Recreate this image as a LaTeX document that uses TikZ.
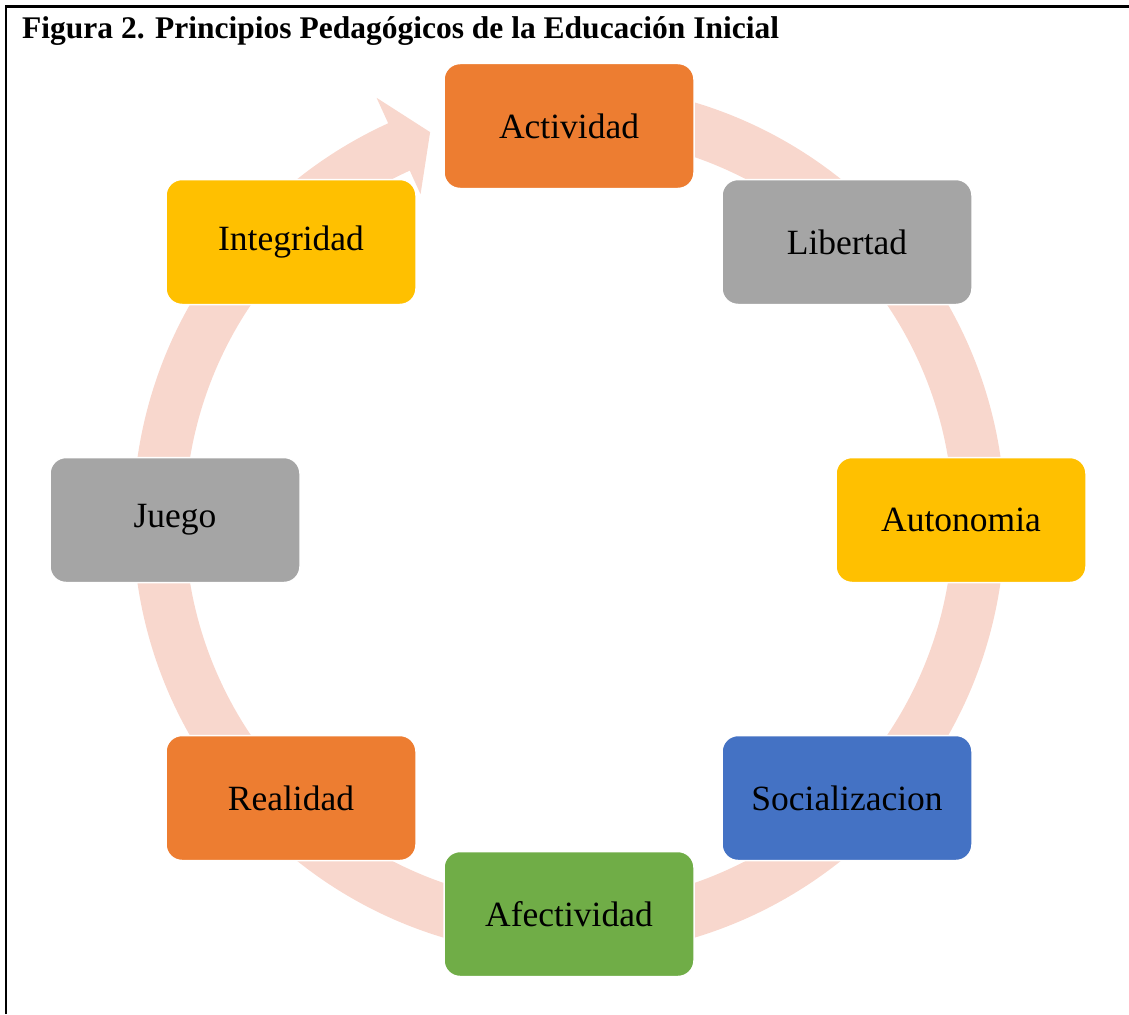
\documentclass[tikz,border=0pt]{standalone}
\usepackage{fontspec}
\setmainfont{Liberation Serif}
\usetikzlibrary{calc}
\definecolor{bandpink}{HTML}{F8D7CD}
\definecolor{boxorange}{HTML}{ED7D31}
\definecolor{boxgray}{HTML}{A5A5A5}
\definecolor{boxyellow}{HTML}{FFC000}
\definecolor{boxblue}{HTML}{4472C4}
\definecolor{boxgreen}{HTML}{70AD47}
\tikzset{
  pbox/.style={draw=white, line width=1.5pt, rounded corners=16pt,
    minimum width=250pt, minimum height=125pt, inner sep=0pt,
    font=\fontsize{35.5}{40}\selectfont, text=black},
  frameline/.style={line width=2.6pt, black}
}
\begin{document}
\begin{tikzpicture}[x=1pt,y=1pt]
\useasboundingbox (0,0) rectangle (1129,-1014);
% frame
\coordinate (fbl) at (6,-1014);
\coordinate (ftl) at (6,-6.5);
\coordinate (ftr) at (1129,-6.5);
\draw[frameline] (fbl) -- (ftl) -- (ftr);
% title
\node[anchor=base west, inner sep=0pt, font=\fontsize{31.5}{36}\selectfont\bfseries] (title) at (22,-39)
  {Figura 2. Principios Pedagógicos de la Educación Inicial};
% circular band with arrowhead
\coordinate (C) at (569,-520);
\fill[bandpink] ($(C)+(85:436pt)$) arc[start angle=85, end angle=-245.5, radius=436pt]
  -- ($(C)+(114.5:464pt)$) -- ($(C)+(109.7:412pt)$) -- ($(C)+(114.5:358pt)$)
  -- ($(C)+(114.5:384pt)$) arc[start angle=-245.5, end angle=85, radius=384pt] -- cycle;
% boxes
\node[pbox, fill=boxorange] (actividad) at (569,-126) {Actividad};
\node[pbox, fill=boxgray] (libertad) at (847,-242) {Libertad};
\node[pbox, fill=boxyellow] (autonomia) at (961,-520) {Autonomia};
\node[pbox, fill=boxblue] (socializacion) at (847,-798) {Socializacion};
\node[pbox, fill=boxgreen] (afectividad) at (569,-914) {Afectividad};
\node[pbox, fill=boxorange] (realidad) at (291,-798) {Realidad};
\node[pbox, fill=boxgray] (juego) at (175,-520) {Juego};
\node[pbox, fill=boxyellow] (integridad) at (291,-242) {Integridad};
\end{tikzpicture}
\end{document}
